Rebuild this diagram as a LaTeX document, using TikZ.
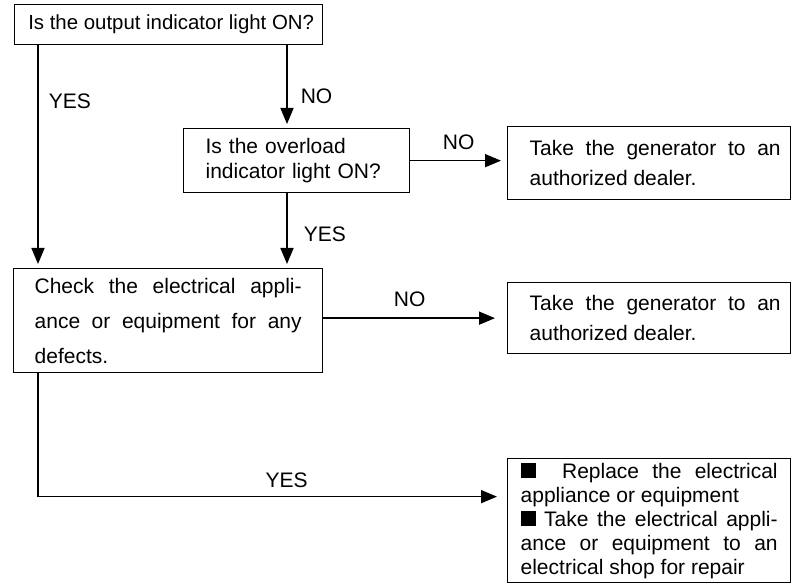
\documentclass[tikz,border=0pt]{standalone}
\usepackage{fontspec}
\setmainfont{Liberation Sans}
\usetikzlibrary{arrows.meta}
\tolerance=10000
\hyphenpenalty=10000
\tikzset{
	box/.style={draw, line width=1.3pt, anchor=north west, inner xsep=#1, inner ysep=0pt, align=justify},
	indent/.style={execute at begin node={\leftskip=#1}},
	arr/.style={line width=1.6pt, shorten >=4pt, -{Triangle[length=16pt,width=13pt]}},
	lbl/.style={inner sep=0pt}
}
\newcommand{\blk}{\rule{15pt}{15pt}}
\begin{document}
\begin{tikzpicture}[x=1pt,y=-1pt,font=\fontsize{21}{25}\selectfont]
	\useasboundingbox (0,0) rectangle (792,585);
	% boxes
	\node[box=0pt, minimum width=308pt, minimum height=40pt, align=center, font=\fontsize{20.4}{25}\selectfont] (q1) at (14,4) {\hspace*{5pt}Is the output indicator light ON?};
	\node[box=22pt, text width=182pt, minimum height=64pt, align=left] (q2) at (183,128) {Is the overload\\indicator light ON?};
	\node[box=10pt, indent=12pt, text width=263pt, minimum height=73pt, font=\fontsize{21}{30}\selectfont] (d1) at (507,126) {Take the generator to an authorized dealer.};
	\node[box=21pt, text width=267pt, minimum height=104pt, font=\fontsize{21}{35}\selectfont] (c) at (13,268) {Check the electrical appli-\linebreak ance or equipment for any\linebreak defects.};
	\node[box=10pt, indent=12pt, text width=263pt, minimum height=71pt, font=\fontsize{21}{30}\selectfont] (d2) at (507,282) {Take the generator to an authorized dealer.};
	\node[box=13pt, text width=257pt, minimum height=124pt, font=\fontsize{21}{24}\selectfont] (e) at (507,458) {\blk\ \ Replace the electrical\linebreak appliance or equipment\\ \blk\ Take the electrical appli-\linebreak ance or equipment to an\linebreak electrical shop for repair};
	% connectors
	\coordinate (lx) at (38,0);
	\coordinate (mx) at (287,0);
	\draw[arr] (q1.south -| lx) -- (c.north -| lx) node[lbl, pos=.25, right=10pt] (yes1) {YES};
	\draw[arr] (q1.south -| mx) -- (q2.north -| mx) node[lbl, pos=.62, right=13pt] (no1) {NO};
	\draw[arr] (q2.south -| mx) -- (c.north -| mx) node[lbl, pos=.55, right=16pt] (yes2) {YES};
	\draw[arr, shorten >=6pt] (q2.east) -- (q2.east -| d1.west) node[lbl, midway, above=10pt] (no2) {NO};
	\draw[arr, shorten >=12pt] (d2.west -| c.east) -- (d2.west) node[lbl, pos=.47, above=11pt] (no3) {NO};
	\draw[arr, shorten >=10pt] (c.south -| lx) |- ([yshift=24pt]e.west) node[lbl, pos=.765, above=8pt] (yes3) {YES};
\end{tikzpicture}
\end{document}
